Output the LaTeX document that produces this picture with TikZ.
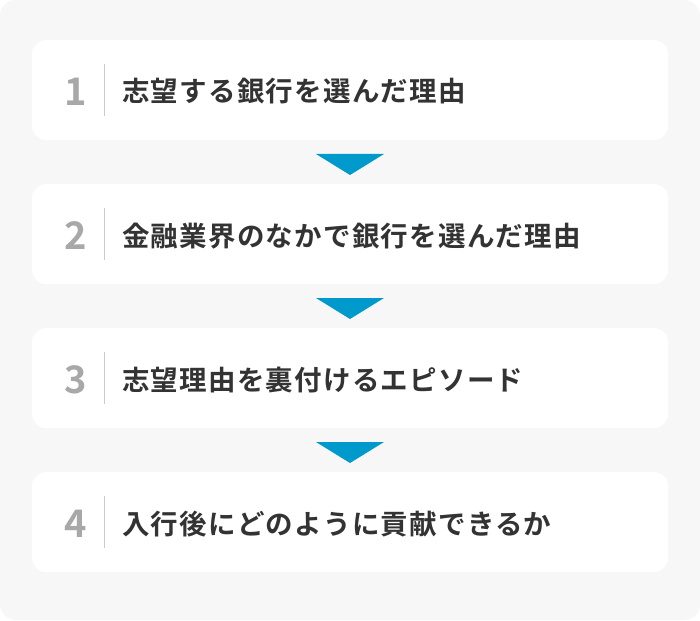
\documentclass[tikz,border=0pt]{standalone}
\usepackage{fontspec}
\newfontfamily\jp{Noto Sans CJK JP Bold}[LetterSpace=4.5]
\newfontfamily\jpnum{Noto Sans CJK JP Bold}
\definecolor{bgc}{HTML}{F7F7F7}
\definecolor{txt}{HTML}{333333}
\definecolor{numc}{HTML}{A8A8A8}
\definecolor{divc}{HTML}{CCCCCC}
\definecolor{arr}{HTML}{0099CC}
\begin{document}
\begin{tikzpicture}[x=1pt,y=-1pt,
  card/.style={fill=white,rounded corners=14pt},
  numlabel/.style={anchor=base,inner sep=0pt,text=numc,font=\jpnum\fontsize{38}{42}\selectfont},
  steplabel/.style={anchor=base west,inner sep=0pt,text=txt,font=\jp\fontsize{27.5}{32}\selectfont},
  divline/.style={draw=divc,line width=1.6pt},
  downtri/.style={fill=arr}]
\useasboundingbox (0,0) rectangle (700,620);
\fill[white] (0,0) rectangle (700,620);
\fill[bgc,rounded corners=16pt] (0,0) rectangle (700,620);
\foreach \i/\t in {0/志望する銀行を選んだ理由,1/金融業界のなかで銀行を選んだ理由,2/志望理由を裏付けるエピソード,3/入行後にどのように貢献できるか}{
  \pgfmathsetmacro{\oy}{144*\i}
  \begin{scope}[yshift=-\oy pt]
    \path[card] (32,40) rectangle (668,140);
    \node[numlabel] (n\i) at (76,105.5) {\the\numexpr\i+1\relax};
    \coordinate (dtop\i) at (104.5,64);
    \coordinate (dbot\i) at (104.5,116);
    \draw[divline] (dtop\i) -- (dbot\i);
    \node[steplabel] (t\i) at (122,102) {\t};
  \end{scope}
}
\foreach \i in {0,1,2}{
  \pgfmathsetmacro{\oy}{144*\i}
  \begin{scope}[yshift=-\oy pt]
    \fill[downtri] (316,154) -- (384,154) -- (350,175) -- cycle;
  \end{scope}
}
\end{tikzpicture}
\end{document}
